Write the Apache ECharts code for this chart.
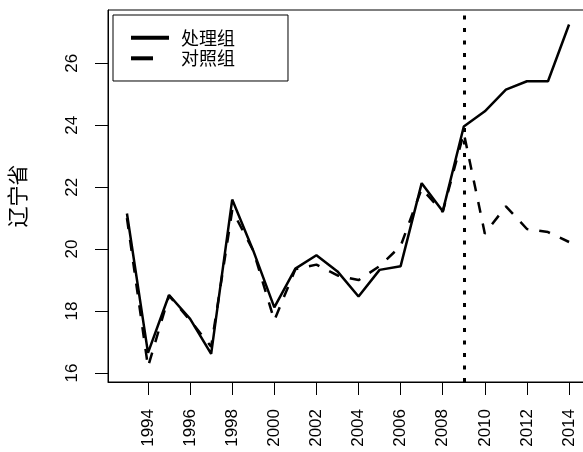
<!DOCTYPE html>
<html>
<head>
<meta charset="utf-8">
<script src="https://cdn.jsdelivr.net/npm/echarts@6/dist/echarts.min.js"></script>
<style>
  html, body { margin: 0; padding: 0; background: #fff; }
  #chart { width: 583px; height: 452px; }
</style>
</head>
<body>
<div id="chart"></div>
<script>
// Liaoning: treated unit vs. synthetic control, 1993-2014
const years = [1993, 1994, 1995, 1996, 1997, 1998, 1999, 2000, 2001, 2002, 2003,
               2004, 2005, 2006, 2007, 2008, 2009, 2010, 2011, 2012, 2013, 2014];
const treated = [21.15, 16.65, 18.52, 17.75, 16.62, 21.60, 19.95, 18.12, 19.37, 19.80, 19.28,
                 18.47, 19.33, 19.45, 22.13, 21.22, 23.96, 24.45, 25.15, 25.42, 25.42, 27.25];
const control = [21.00, 16.20, 18.50, 17.70, 16.85, 21.25, 19.95, 17.70, 19.35, 19.50, 19.15,
                 19.00, 19.45, 20.10, 21.95, 21.20, 23.75, 20.50, 21.38, 20.65, 20.55, 20.23];
const xTicks = [1994, 1996, 1998, 2000, 2002, 2004, 2006, 2008, 2010, 2012, 2014];
const yTicks = [16, 18, 20, 22, 24, 26];
const policyYear = 2009;
const seriesNames = ['处理组', '对照组'];
const yTitle = '辽宁省';

const toPairs = (vals) => years.map((y, i) => [y, vals[i]]);
const plain = (v) => String(v);

const labelFont = { fontFamily: 'Liberation Sans, Arial, sans-serif', fontSize: 17, color: '#000' };
const cjkFont = 'Noto Sans CJK SC, sans-serif';

const chart = echarts.init(document.getElementById('chart'), null, { renderer: 'canvas' });

chart.setOption({
  animation: false,
  backgroundColor: '#fff',
  grid: {
    left: 108, top: 10, width: 480, height: 372,
    show: true, borderColor: '#000', borderWidth: 1,
    containLabel: false, outerBoundsMode: 'none'
  },
  legend: {
    left: 113, top: 15,
    orient: 'vertical',
    align: 'left',
    backgroundColor: '#fff',
    borderColor: '#000', borderWidth: 1, borderRadius: 0,
    padding: [13.7, 53, 13.7, 16],
    itemWidth: 38, itemHeight: 18, itemGap: 2.6,
    selectedMode: false,
    textStyle: { fontFamily: cjkFont, fontSize: 18, color: '#000', padding: [0, 0, 0, 7] },
    data: [
      { name: seriesNames[0], itemStyle: { opacity: 0 },
        lineStyle: { color: '#000', width: 4, type: 'solid', opacity: 1 } },
      { name: seriesNames[1], itemStyle: { opacity: 0 },
        lineStyle: { color: '#000', width: 4, type: [22, 30], opacity: 1 } }
    ]
  },
  xAxis: {
    type: 'value',
    min: 1992.1, max: 2014.9,
    axisLine: { show: true, onZero: false, lineStyle: { color: '#000', width: 1 } },
    axisTick: { show: true, inside: false, length: 13, customValues: xTicks, lineStyle: { color: '#000', width: 1 } },
    axisLabel: Object.assign({ rotate: 90, margin: 27, customValues: xTicks, formatter: plain }, labelFont),
    splitLine: { show: false }
  },
  yAxis: {
    type: 'value',
    min: 15.71, max: 27.72,
    name: yTitle,
    nameLocation: 'middle',
    nameRotate: 90,
    nameGap: 80,
    nameTextStyle: { fontFamily: cjkFont, fontSize: 21, color: '#000' },
    axisLine: { show: true, onZero: false, lineStyle: { color: '#000', width: 1 } },
    axisTick: { show: true, inside: false, length: 13, customValues: yTicks, lineStyle: { color: '#000', width: 1 } },
    axisLabel: Object.assign({ rotate: 90, margin: 27, customValues: yTicks, formatter: plain }, labelFont),
    splitLine: { show: false }
  },
  series: [
    {
      name: seriesNames[0],
      type: 'line',
      data: toPairs(treated),
      symbol: 'none',
      lineStyle: { color: '#000', width: 2.5, type: 'solid' },
      itemStyle: { color: '#000' },
      markLine: {
        silent: true,
        symbol: ['none', 'none'],
        label: { show: false },
        lineStyle: { color: '#000', width: 3, type: [4, 8.5] },
        data: [{ xAxis: policyYear }]
      }
    },
    {
      name: seriesNames[1],
      type: 'line',
      data: toPairs(control),
      symbol: 'none',
      lineStyle: { color: '#000', width: 2.5, type: [11, 11] },
      itemStyle: { color: '#000' }
    }
  ]
});
</script>
</body>
</html>
